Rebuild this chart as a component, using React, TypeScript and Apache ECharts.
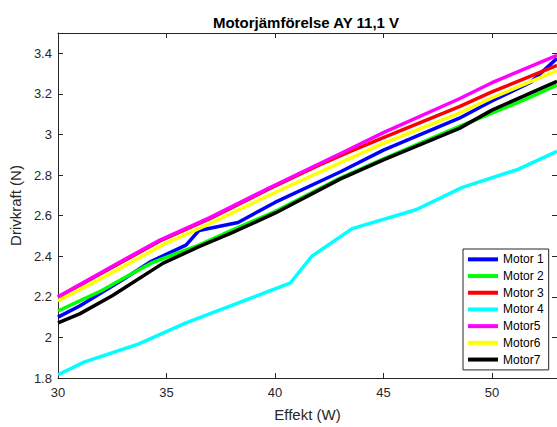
import React, { useEffect, useRef } from 'react';
import * as echarts from 'echarts';

const FONT = '"Liberation Sans", Arial, Helvetica, sans-serif';

const seriesNames = ['Motor 1', 'Motor 2', 'Motor 3', 'Motor 4', 'Motor5', 'Motor6', 'Motor7'];
const seriesColors = ['#0000FF', '#00FF00', '#FF0000', '#00FFFF', '#FF00FF', '#FFFF00', '#000000'];

const motor1: [number, number][] = [
  [30, 2.10], [31, 2.155], [32, 2.22], [33, 2.285], [34.3, 2.375], [35.9, 2.455], [36.5, 2.527],
  [38.3, 2.566], [40, 2.665], [43, 2.815], [45, 2.923], [48.5, 3.08], [50, 3.165], [51.8, 3.258], [53, 3.375],
];
const motor2: [number, number][] = [
  [30, 2.13], [31, 2.18], [32, 2.23], [33, 2.29], [34.3, 2.366], [35, 2.395], [36.5, 2.455], [38, 2.528],
  [40, 2.62], [43, 2.785], [45, 2.88], [48.5, 3.04], [50, 3.105], [51.7, 3.18], [53, 3.243],
];
const motor3: [number, number][] = [
  [30, 2.198], [34.7, 2.475], [37, 2.585], [39.7, 2.73], [42, 2.848], [43.5, 2.918], [45, 2.985],
  [48.5, 3.137], [50, 3.21], [53, 3.34],
];
const motor4: [number, number][] = [
  [30, 1.816], [31.2, 1.878], [33.7, 1.967], [35.9, 2.072], [40.7, 2.267], [41.7, 2.40], [43.56, 2.536],
  [46.5, 2.629], [48.64, 2.739], [51.2, 2.828], [53, 2.917],
];
const motor5: [number, number][] = [
  [30, 2.20], [31.5, 2.29], [33, 2.38], [34.7, 2.48], [37, 2.59], [39.7, 2.735], [43, 2.905], [45, 3.009],
  [48.5, 3.176], [50, 3.255], [53, 3.39],
];
const motor6: [number, number][] = [
  [30, 2.18], [32, 2.29], [35, 2.465], [37, 2.56], [40, 2.714], [43, 2.86], [45, 2.956], [48.5, 3.105],
  [50, 3.18], [53, 3.315],
];
const motor7: [number, number][] = [
  [30, 2.072], [31, 2.116], [32.5, 2.205], [34.85, 2.366], [36.5, 2.447], [38, 2.515], [40, 2.612],
  [43, 2.78], [45, 2.875], [48.5, 3.03], [50, 3.12], [53, 3.262],
];
const seriesData = [motor1, motor2, motor3, motor4, motor5, motor6, motor7];

const titleText = 'Motorjämförelse AY 11,1 V';
const xName = 'Effekt (W)';
const yName = 'Drivkraft (N)';

export default function App() {
  const ref = useRef<HTMLDivElement>(null);
  useEffect(() => {
    if (!ref.current) return;
    const chart = echarts.init(ref.current, undefined, { renderer: 'svg' });
    const axisColor = '#262626';
    const commonX = {
      type: 'value' as const,
      min: 30,
      max: 53,
      interval: 5,
      splitLine: { show: false },
      axisLine: { show: true, onZero: false, lineStyle: { color: axisColor, width: 1 } },
      axisTick: { show: true, inside: true, length: 5, lineStyle: { color: axisColor } },
    };
    const commonY = {
      type: 'value' as const,
      min: 1.8,
      max: 3.5,
      interval: 0.2,
      splitLine: { show: false },
      axisLine: { show: true, onZero: false, lineStyle: { color: axisColor, width: 1 } },
      axisTick: { show: true, inside: true, length: 5, lineStyle: { color: axisColor } },
    };
    chart.setOption({
      animation: false,
      backgroundColor: '#ffffff',
      textStyle: { fontFamily: FONT },
      grid: { left: 53, top: 33, width: 506, height: 350, containLabel: false },
      graphic: [
        {
          type: 'text',
          x: 306,
          y: 22,
          style: {
            text: titleText,
            fontSize: 15,
            fontWeight: 'bold',
            fontFamily: FONT,
            fill: '#000000',
            align: 'center',
            verticalAlign: 'middle',
          },
        },
      ],
      legend: {
        orient: 'vertical',
        left: 463,
        top: 249,
        itemWidth: 30,
        itemHeight: 4,
        itemGap: 2,
        icon: 'rect',
        backgroundColor: '#ffffff',
        borderColor: axisColor,
        borderWidth: 1,
        padding: [3, 5, 3, 5],
        textStyle: { fontSize: 12, color: '#000000', lineHeight: 14.7, fontFamily: FONT },
        data: seriesNames,
      },
      xAxis: [
        {
          ...commonX,
          position: 'bottom',
          name: xName,
          nameLocation: 'middle',
          nameGap: 29,
          nameTextStyle: { fontSize: 15, color: axisColor, fontFamily: FONT },
          axisLabel: { show: true, margin: 8, fontSize: 13, color: axisColor, showMaxLabel: false, fontFamily: FONT },
        },
        {
          ...commonX,
          position: 'top',
          axisLabel: { show: false },
        },
      ],
      yAxis: [
        {
          ...commonY,
          position: 'left',
          name: yName,
          nameLocation: 'middle',
          nameGap: 30,
          nameRotate: 90,
          nameTextStyle: { fontSize: 15, color: axisColor, fontFamily: FONT },
          axisLabel: { show: true, margin: 6, fontSize: 13, color: axisColor, showMaxLabel: false, fontFamily: FONT },
        },
        {
          ...commonY,
          position: 'right',
          axisLabel: { show: false },
        },
      ],
      series: seriesNames.map((name, i) => ({
        name,
        type: 'line',
        xAxisIndex: 0,
        yAxisIndex: 0,
        data: seriesData[i],
        showSymbol: false,
        symbol: 'none',
        clip: true,
        color: seriesColors[i],
        lineStyle: { color: seriesColors[i], width: 3.5 },
        emphasis: { disabled: true },
      })),
    });
    return () => chart.dispose();
  }, []);
  return (
    <div
      ref={ref}
      style={{ position: 'fixed', left: 0, top: 0, width: 557, height: 427, background: '#fff' }}
    />
  );
}
